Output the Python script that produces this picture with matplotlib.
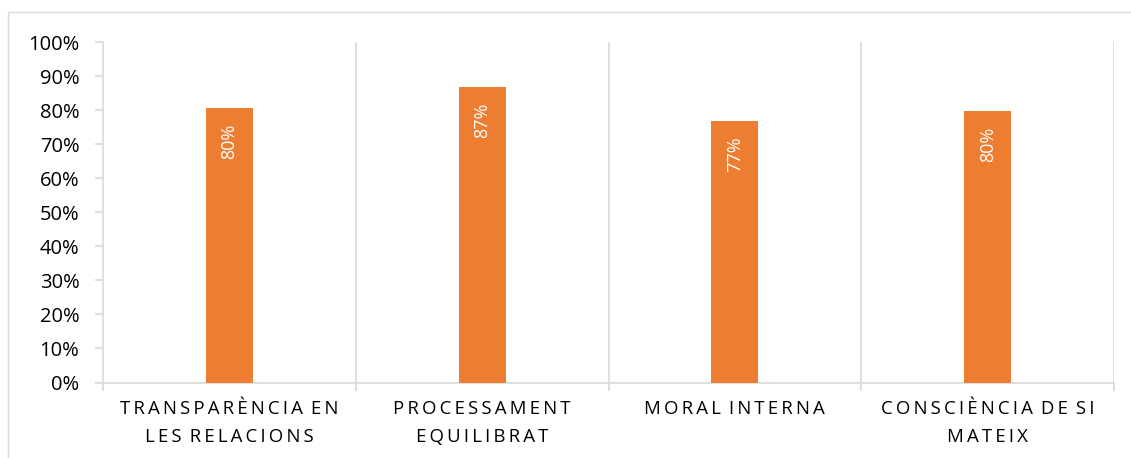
import matplotlib
matplotlib.use("Agg")
import matplotlib.pyplot as plt
from matplotlib.patches import Rectangle
from matplotlib.ticker import MultipleLocator, PercentFormatter

categories = ["TRANSPARÈNCIA EN\nLES RELACIONS", "PROCESSAMENT\nEQUILIBRAT",
              "MORAL INTERNA", "CONSCIÈNCIA DE SI\nMATEIX"]
values = [0.805, 0.868, 0.768, 0.796]
value_labels = ["80%", "87%", "77%", "80%"]

plt.rcParams['font.family'] = ['Open Sans', 'DejaVu Sans']

W, H = 1131, 458
fig = plt.figure(figsize=(W / 100, H / 100), dpi=100)
ax = fig.add_axes([103 / W, 1 - 382.5 / H, (1114 - 103) / W, (382.5 - 42) / H])

orange = "#ED7D31"
grid = "#D9D9D9"

x = list(range(len(categories)))
ax.bar(x, values, width=0.186, color=orange, zorder=3)
ax.set_xlim(-0.5, len(categories) - 0.5)
ax.set_ylim(0, 1.0)

for xi, v, lab in zip(x, values, value_labels):
    ax.annotate(lab, (xi, v), xytext=(0, -11), textcoords="offset points",
                rotation=90, ha="center", va="top", color="white", fontsize=13,
                zorder=4)

# separators between categories
for b in [0.5, 1.5, 2.5, 3.5]:
    ax.axvline(b, color=grid, lw=1.2, zorder=1)

ax.yaxis.set_major_locator(MultipleLocator(0.1))
ax.yaxis.set_major_formatter(PercentFormatter(1.0, decimals=0))
ax.tick_params(axis='y', length=6, width=1.2, color=grid, labelsize=14.5,
               labelcolor="#000000", pad=11)

ax.set_xticks([-0.5, 0.5, 1.5, 2.5, 3.5])
ax.set_xticklabels([])
ax.tick_params(axis='x', length=6, width=1.2, color=grid)

spaced = ["\u2009".join(list(c)).replace("\u2009\n\u2009", "\n").replace("\u2009 \u2009", " \u2009")
          for c in categories]
for xi, lab in zip(x, spaced):
    ax.text(xi, -0.052, lab, transform=ax.transData, ha="center", va="top",
            fontsize=13.4, color="#000000", linespacing=1.7, clip_on=False)

for side in ["top", "right"]:
    ax.spines[side].set_visible(False)
ax.spines["left"].set_color(grid)
ax.spines["left"].set_linewidth(1.2)
ax.spines["bottom"].set_color(grid)
ax.spines["bottom"].set_linewidth(1.2)

# figure border
fig.patches.append(Rectangle((8 / W, -0.01), 1.1, 1 - 12 / H + 0.01, transform=fig.transFigure,
                             fill=False, edgecolor=grid, lw=1.0))

fig.savefig("out.png", dpi=100)
